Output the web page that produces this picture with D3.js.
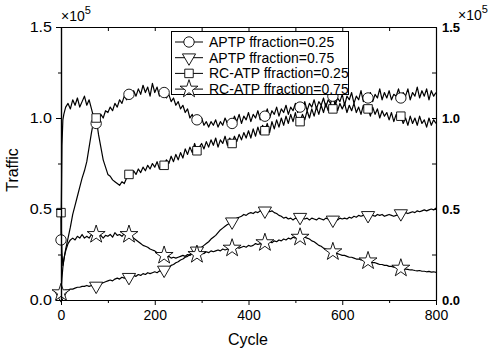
<!DOCTYPE html>
<html><head><meta charset="utf-8">
<script src="https://cdn.jsdelivr.net/npm/d3@7"></script>
<style>body{margin:0;background:#fff} text{font-family:"Liberation Sans",Arial,sans-serif}</style>
</head><body><svg id="c" width="499" height="351"></svg>
<script>
// sample grid (cycles)
const cycles = [0,2,4,6,8,10].concat(d3.range(15, 801, 5));

const aptp25 = [0.33,0.85,0.99,1.02,1.04,1.06,
 1.08,1.05,1.10,1.07,1.11,1.06,1.09,1.12,
 1.07,1.10,1.05,1.00,0.97,0.99,1.02,1.00,1.04,1.03,
 1.06,1.04,1.08,1.06,1.10,1.08,1.12,1.10,1.13,1.11,
 1.15,1.12,1.16,1.13,1.18,1.14,1.17,1.12,1.19,1.14,
 1.17,1.12,1.16,1.14,1.11,1.13,1.09,1.11,1.07,1.09,
 1.05,1.07,1.03,1.05,1.00,1.02,0.98,0.99,0.97,1.00,
 0.96,0.98,0.95,0.98,0.96,0.99,0.95,0.98,0.96,1.00,
 0.97,0.99,0.97,1.01,0.98,1.02,0.97,1.01,0.99,1.03,
 0.98,1.02,1.00,1.04,0.99,1.03,1.01,1.05,1.00,1.04,
 1.02,1.06,1.01,1.05,1.03,1.07,1.02,1.06,1.04,1.08,
 1.03,1.06,1.05,1.09,1.04,1.08,1.06,1.10,1.05,1.09,
 1.07,1.11,1.06,1.10,1.08,1.12,1.07,1.11,1.09,1.13,
 1.07,1.12,1.10,1.14,1.08,1.12,1.10,1.15,1.09,1.13,
 1.11,1.14,1.09,1.13,1.11,1.16,1.10,1.14,1.11,1.15,
 1.10,1.13,1.12,1.16,1.11,1.14,1.12,1.16,1.10,1.14,
 1.12,1.17,1.11,1.15,1.12,1.16,1.10,1.15,1.12,1.14];

const aptp75 = [0.03,0.04,0.045,0.05,0.05,0.055,
 0.055,0.06,0.06,0.065,0.07,0.07,0.075,0.075,
 0.08,0.075,0.08,0.078,0.077,0.085,0.09,0.095,0.10,0.105,
 0.11,0.105,0.115,0.12,0.115,0.125,0.12,0.13,0.125,0.13,
 0.135,0.13,0.14,0.135,0.145,0.14,0.15,0.145,0.15,0.155,
 0.15,0.16,0.155,0.165,0.17,0.18,0.19,0.195,0.205,0.21,
 0.22,0.225,0.235,0.24,0.25,0.26,0.265,0.27,0.28,0.29,
 0.30,0.31,0.32,0.335,0.345,0.355,0.37,0.385,0.395,0.405,
 0.415,0.42,0.43,0.44,0.45,0.455,0.46,0.47,0.465,0.475,
 0.48,0.475,0.485,0.48,0.49,0.485,0.49,0.495,0.485,0.49,
 0.48,0.475,0.465,0.46,0.45,0.455,0.445,0.45,0.44,0.45,
 0.445,0.455,0.45,0.445,0.45,0.44,0.45,0.445,0.44,0.45,
 0.445,0.44,0.45,0.445,0.44,0.44,0.445,0.44,0.45,0.445,
 0.45,0.445,0.455,0.45,0.46,0.455,0.465,0.46,0.465,0.47,
 0.465,0.47,0.465,0.46,0.47,0.465,0.47,0.46,0.465,0.47,
 0.465,0.46,0.465,0.47,0.475,0.47,0.48,0.475,0.48,0.485,
 0.48,0.49,0.485,0.49,0.495,0.49,0.495,0.5,0.495,0.505];

const rcatp25 = [0.48,0.26,0.19,0.22,0.25,0.28,
 0.34,0.40,0.47,0.52,0.57,0.62,0.67,0.71,
 0.76,0.84,0.92,0.99,1.00,0.91,0.84,0.77,0.73,0.69,
 0.68,0.66,0.65,0.64,0.63,0.65,0.64,0.67,0.69,0.68,
 0.71,0.69,0.72,0.70,0.73,0.71,0.74,0.72,0.75,0.73,
 0.76,0.72,0.75,0.74,0.77,0.75,0.79,0.76,0.80,0.77,
 0.81,0.78,0.83,0.80,0.84,0.81,0.86,0.82,0.84,0.86,
 0.83,0.87,0.84,0.88,0.85,0.89,0.84,0.88,0.86,0.90,
 0.85,0.89,0.86,0.90,0.87,0.91,0.88,0.92,0.89,0.93,
 0.89,0.94,0.90,0.95,0.91,0.96,0.93,0.97,0.92,0.98,
 0.94,0.99,0.95,1.00,0.96,1.01,0.97,1.02,0.98,1.03,
 0.97,0.98,1.02,0.99,1.04,1.00,1.05,1.01,1.06,1.02,
 1.07,1.03,1.08,1.04,1.08,1.05,1.09,1.04,1.08,1.05,
 1.08,1.03,1.07,1.04,1.08,1.03,1.06,1.02,1.07,1.03,
 1.05,1.01,1.06,1.02,1.05,1.00,1.04,1.01,1.03,0.99,
 1.03,0.98,1.02,0.99,1.01,0.97,1.00,0.96,1.01,0.97,
 1.00,0.96,1.01,0.97,0.99,0.95,1.00,0.96,0.99,0.97];

const rcatp75 = [0.04,0.12,0.18,0.22,0.25,0.27,
 0.31,0.33,0.34,0.33,0.35,0.34,0.36,0.34,
 0.35,0.34,0.36,0.35,0.36,0.345,0.355,0.34,0.355,0.35,
 0.36,0.345,0.37,0.355,0.36,0.35,0.365,0.35,0.36,0.35,
 0.34,0.33,0.32,0.31,0.30,0.295,0.29,0.28,0.275,0.27,
 0.26,0.255,0.245,0.245,0.235,0.24,0.23,0.235,0.23,0.235,
 0.24,0.245,0.24,0.25,0.245,0.255,0.25,0.25,0.255,0.26,
 0.255,0.265,0.26,0.27,0.265,0.27,0.275,0.27,0.28,0.275,
 0.28,0.275,0.285,0.28,0.29,0.285,0.29,0.295,0.29,0.30,
 0.295,0.30,0.31,0.305,0.31,0.305,0.315,0.31,0.32,0.315,
 0.325,0.32,0.33,0.325,0.335,0.33,0.34,0.335,0.345,0.34,
 0.35,0.345,0.355,0.345,0.34,0.335,0.325,0.32,0.31,0.30,
 0.295,0.285,0.28,0.275,0.27,0.265,0.26,0.255,0.25,0.245,
 0.245,0.24,0.235,0.235,0.23,0.225,0.225,0.22,0.22,0.215,
 0.215,0.21,0.205,0.205,0.2,0.195,0.195,0.19,0.19,0.185,
 0.185,0.18,0.18,0.175,0.175,0.17,0.17,0.168,0.165,0.165,
 0.162,0.16,0.162,0.158,0.158,0.155,0.157,0.153,0.155,0.152];

const seriesNames = ["APTP ffraction=0.25","APTP ffraction=0.75","RC-ATP ffraction=0.25","RC-ATP ffraction=0.75"];
const markerCycles = [0,75,145,220,290,365,435,510,580,655,725];
const xMajor = [0,200,400,600,800];
const xMinor = [100,300,500,700];
const yMajor = [0,0.5,1.0,1.5];
const yMinor = [0.25,0.75,1.25];

const svg = d3.select("#c");
svg.append("rect").attr("width",499).attr("height",351).attr("fill","#fff");
const x = d3.scaleLinear().domain([0,800]).range([61,436]);
const y = d3.scaleLinear().domain([0,1.5]).range([300,27]);

const series = [
 {name:seriesNames[0], vals:aptp25, sym:"circle"},
 {name:seriesNames[1], vals:aptp75, sym:"tri"},
 {name:seriesNames[2], vals:rcatp25, sym:"square"},
 {name:seriesNames[3], vals:rcatp75, sym:"star"}
];

function symPath(t){
  if(t==="circle") return d3.symbol(d3.symbolCircle, 85)();
  if(t==="square") return d3.symbol(d3.symbolSquare, 72)();
  if(t==="star") return d3.symbol(d3.symbolStar, 100)();
  return d3.symbol(d3.symbolTriangle, 75)();
}
function addSym(g, t, cx, cy){
  const p = g.append("path").attr("d", symPath(t)).attr("fill","#fff").attr("stroke","#000").attr("stroke-width",0.9);
  if(t==="tri") p.attr("transform",`translate(${cx},${cy}) rotate(180)`);
  else p.attr("transform",`translate(${cx},${cy})`);
}

const line = d3.line().x((d,i)=>x(cycles[i])).y(d=>y(d));
const plot = svg.append("g");
series.forEach(s=>{
  plot.append("path").attr("d", line(s.vals)).attr("fill","none").attr("stroke","#000").attr("stroke-width",1.2).attr("stroke-linejoin","round");
});
series.forEach(s=>{
  markerCycles.forEach(c=>{
    const i = cycles.indexOf(c);
    addSym(plot, s.sym, x(c), y(s.vals[i]));
  });
});

// axes
const fnt = sz => g => g.attr("font-family","Liberation Sans, Arial, sans-serif").attr("font-size",sz);
function stretch(sel, k){
  sel.each(function(){
    const t = d3.select(this); const x0 = +t.attr("x") || 0;
    t.attr("transform", `translate(${x0},0) scale(${k},1) translate(${-x0},0)`);
  });
}
svg.append("g").attr("transform","translate(0,300)").call(d3.axisBottom(x).tickValues(xMajor).tickSize(5).tickPadding(5).tickSizeOuter(0)).call(fnt(14));
svg.append("g").attr("transform","translate(0,300)").call(d3.axisBottom(x).tickValues(xMinor).tickSize(3).tickFormat("").tickSizeOuter(0));
svg.append("g").attr("transform","translate(0,27)").call(d3.axisTop(x).tickValues(xMajor.concat(xMinor)).tickSize(-4).tickFormat("").tickSizeOuter(0));
const la = svg.append("g").attr("transform","translate(61,0)").call(d3.axisLeft(y).tickValues(yMajor).tickFormat(d3.format(".1f")).tickSize(5).tickPadding(4).tickSizeOuter(0)).call(fnt(14));
stretch(la.selectAll("text"), 1.15);
svg.append("g").attr("transform","translate(61,0)").call(d3.axisLeft(y).tickValues(yMinor).tickFormat("").tickSize(3).tickSizeOuter(0));
const ra = svg.append("g").attr("transform","translate(436,0)").call(d3.axisRight(y).tickValues(yMajor.concat(yMinor)).tickFormat(d=>yMajor.includes(d)?d3.format(".1f")(d):"").tickSize(-4).tickPadding(6).tickSizeOuter(0)).call(fnt(13));
ra.selectAll("text").attr("font-weight","bold");
svg.selectAll(".domain").attr("stroke-width",1.2);

// exponent labels
function expo(xp, yp){
  const t = svg.append("text").attr("x",xp).attr("y",yp).attr("font-size",14).attr("fill","#000");
  t.append("tspan").text("×10");
  t.append("tspan").attr("dy",-7).attr("font-size",11).text("5");
}
expo(61,21);
expo(458,20);

// axis titles
svg.append("text").attr("x",248).attr("y",345).attr("text-anchor","middle").attr("font-size",16).text("Cycle");
svg.append("text").attr("transform","translate(18,170) rotate(-90)").attr("text-anchor","middle").attr("font-size",16).text("Traffic");

// legend
const lg = svg.append("g");
lg.append("rect").attr("x",171.5).attr("y",31.5).attr("width",177).attr("height",63).attr("fill","#fff").attr("stroke","#000").attr("stroke-width",1);
series.forEach((s,i)=>{
  const yy = 42 + i*15.7;
  lg.append("line").attr("x1",175).attr("x2",203).attr("y1",yy).attr("y2",yy).attr("stroke","#000").attr("stroke-width",1);
  addSym(lg, s.sym, 189, yy);
  lg.append("text").attr("x",209).attr("y",yy+5).attr("font-size",14).text(s.name);
});
</script></body></html>
